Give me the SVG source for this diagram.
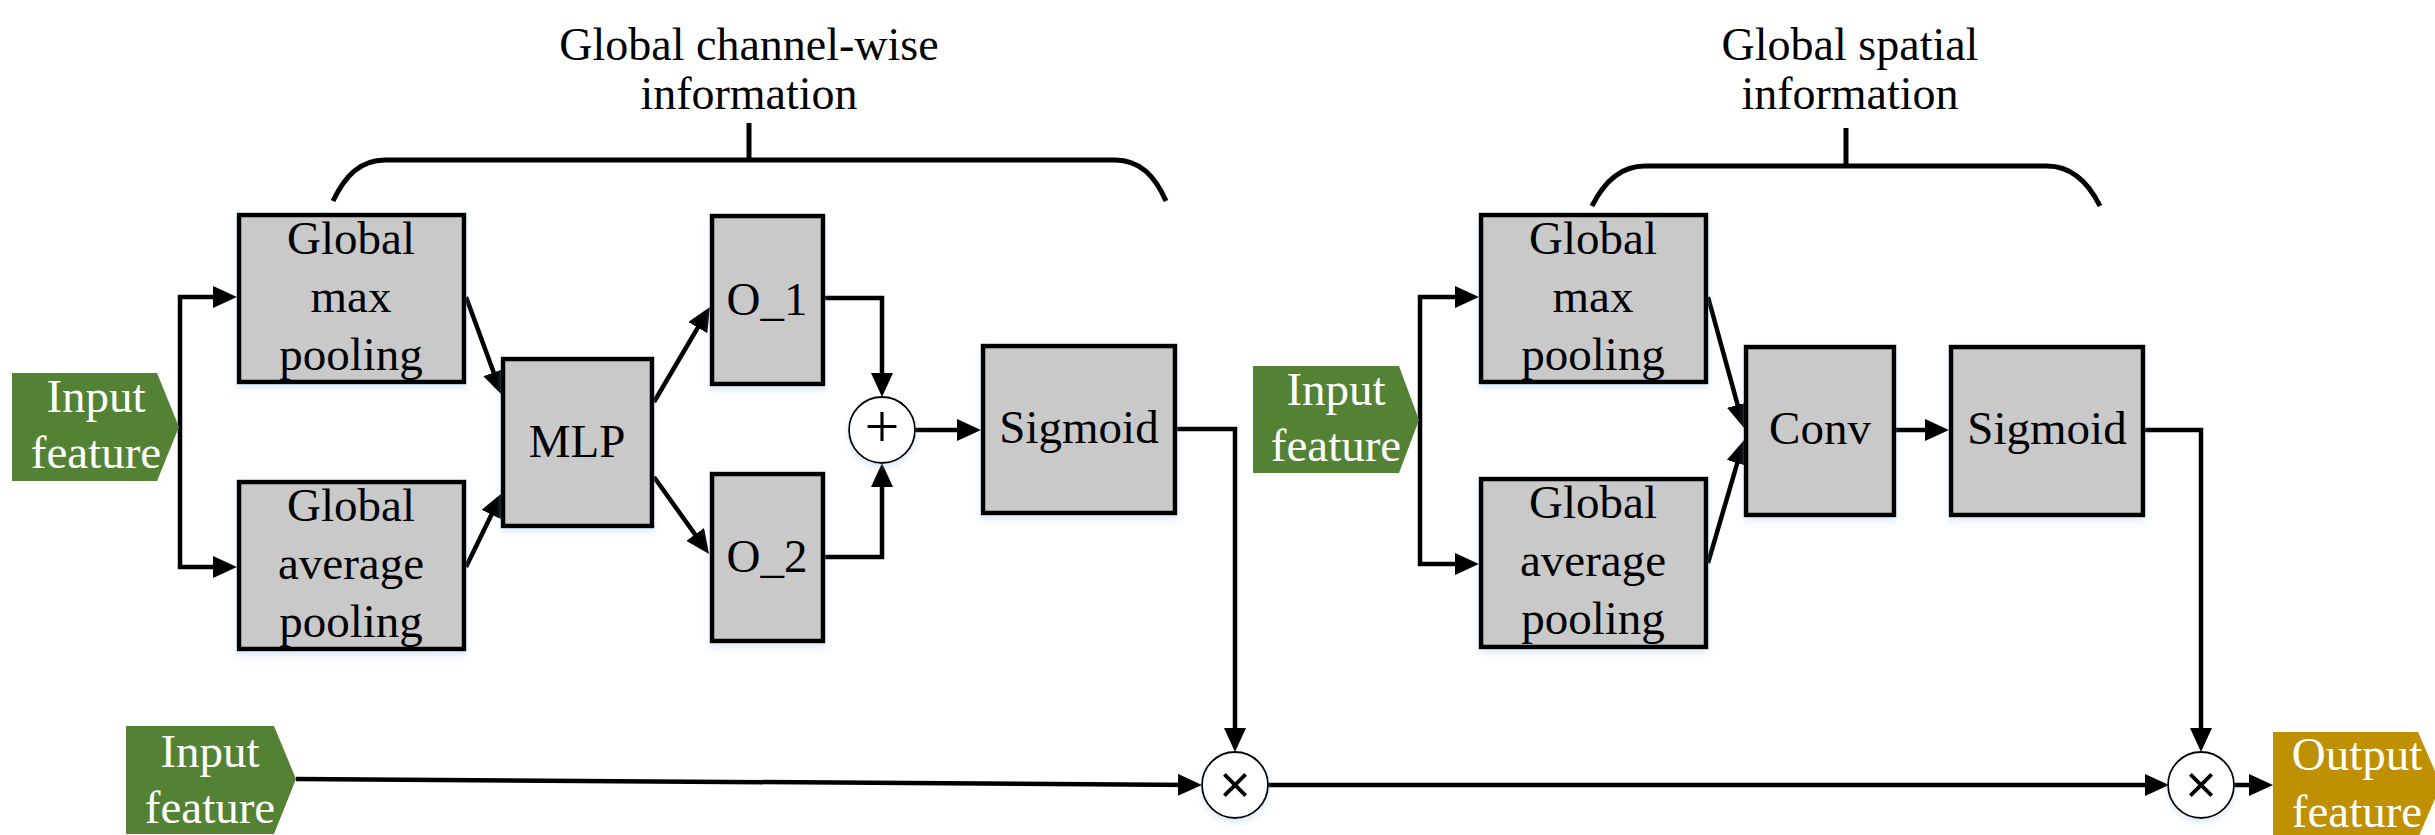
<svg xmlns="http://www.w3.org/2000/svg" width="2435" height="835" viewBox="0 0 2435 835">
<style>
.box{fill:#C9C9C9;stroke:#000;stroke-width:4.5;filter:url(#sh)}
.t{font-family:"Liberation Serif","Times New Roman",serif;font-size:47px;text-anchor:middle;fill:#000}
.tt{font-size:46px}
.w{fill:#fff}
.c{fill:none;stroke:#000;stroke-width:4.5}
.a{marker-end:url(#ah)}
.br{fill:none;stroke:#000;stroke-width:5}
.op{fill:#fff;stroke:#000;stroke-width:1.8;filter:url(#sh)}
.in{fill:#548235}
.out{fill:#BF9000}
</style>
<defs>
<marker id="ah" markerUnits="userSpaceOnUse" markerWidth="24" markerHeight="22" refX="16" refY="11" orient="auto">
<path d="M0,0 L24,11 L0,22 Z" fill="#000"/>
</marker>
<filter id="sh" x="-10%" y="-10%" width="120%" height="130%">
<feDropShadow dx="0" dy="4" stdDeviation="3" flood-color="#9DC3E6" flood-opacity="0.35"/>
</filter>
</defs>

<g id="brace-channel">
<path class="br" d="M333,201 C345,176 360,160 385,160 H1115 C1140,160 1155,176 1166,201"/>
<path class="br" d="M749,123 V160"/>
<text class="t tt" x="749" y="60">Global channel-wise</text>
<text class="t tt" x="749" y="109">information</text>
</g>
<g id="brace-spatial">
<path class="br" d="M1592,206 C1604,182 1620,166 1645,166 H2047 C2072,166 2088,182 2100,206"/>
<path class="br" d="M1846,128 V166"/>
<text class="t tt" x="1850" y="60">Global spatial</text>
<text class="t tt" x="1850" y="109">information</text>
</g>

<g id="connectors">
<path class="c a" d="M180,427 V297 H229"/>
<path class="c a" d="M180,427 V567 H229"/>
<path class="c a" d="M466,297 L499.2,387.5"/>
<path class="c a" d="M466,567 L498.5,500.2"/>
<path class="c a" d="M654,402 L705.9,313.9"/>
<path class="c a" d="M654,477 L704.4,547.5"/>
<path class="c a" d="M825,298 H882 V389"/>
<path class="c a" d="M825,557 H882 V471"/>
<path class="c a" d="M915,430 H973"/>
<path class="c a" d="M1177,429 H1235 V744"/>
<path class="c a" d="M296,779 L1194,785"/>
<path class="c a" d="M1268,785 H2161"/>
<path class="c a" d="M1420,420 V297 H1471"/>
<path class="c a" d="M1420,420 V564 H1471"/>
<path class="c a" d="M1708,297 L1741.9,420.3"/>
<path class="c a" d="M1708,563 L1741.8,447.7"/>
<path class="c a" d="M1896,430 H1941"/>
<path class="c a" d="M2145,430 H2201 V744"/>
<path class="c a" d="M2234,785 H2265"/>
</g>

<g id="input1">
<polygon class="in" points="12,373 157,373 179,427 157,481 12,481"/>
<text class="t w" x="96" y="412">Input</text>
<text class="t w" x="96" y="468">feature</text>
</g>
<g id="gmp1">
<rect class="box" x="239" y="215" width="225" height="167"/>
<text class="t" x="351" y="254">Global</text>
<text class="t" x="351" y="312">max</text>
<text class="t" x="351" y="370">pooling</text>
</g>
<g id="gap1">
<rect class="box" x="239" y="482" width="225" height="167"/>
<text class="t" x="351" y="521">Global</text>
<text class="t" x="351" y="579">average</text>
<text class="t" x="351" y="637">pooling</text>
</g>
<g id="mlp">
<rect class="box" x="503" y="359" width="149" height="167"/>
<text class="t" x="577" y="457">MLP</text>
</g>
<g id="o1">
<rect class="box" x="712" y="216" width="111" height="168"/>
<text class="t" x="767" y="315">O_1</text>
</g>
<g id="o2">
<rect class="box" x="712" y="474" width="111" height="167"/>
<text class="t" x="767" y="572">O_2</text>
</g>
<g id="add">
<circle class="op" cx="882" cy="430" r="33"/>
<text class="t" x="882" y="447" style="font-size:62px">+</text>
</g>
<g id="sigmoid1">
<rect class="box" x="983" y="346" width="192" height="167"/>
<text class="t" x="1079" y="443">Sigmoid</text>
</g>
<g id="input-bottom">
<polygon class="in" points="126,726 274,726 296,779 274,834 126,834"/>
<text class="t w" x="210" y="767">Input</text>
<text class="t w" x="210" y="823">feature</text>
</g>
<g id="mul1">
<circle class="op" cx="1235" cy="785" r="33"/>
<text x="1235" y="803" style="font-family:'Liberation Sans',Arial,sans-serif;font-size:54px;text-anchor:middle">×</text>
</g>
<g id="input2">
<polygon class="in" points="1253,366 1399,366 1419,420 1399,473 1253,473"/>
<text class="t w" x="1336" y="405">Input</text>
<text class="t w" x="1336" y="461">feature</text>
</g>
<g id="gmp2">
<rect class="box" x="1481" y="215" width="225" height="167"/>
<text class="t" x="1593" y="254">Global</text>
<text class="t" x="1593" y="312">max</text>
<text class="t" x="1593" y="370">pooling</text>
</g>
<g id="gap2">
<rect class="box" x="1481" y="479" width="225" height="168"/>
<text class="t" x="1593" y="518">Global</text>
<text class="t" x="1593" y="576">average</text>
<text class="t" x="1593" y="634">pooling</text>
</g>
<g id="conv">
<rect class="box" x="1746" y="347" width="148" height="168"/>
<text class="t" x="1820" y="444">Conv</text>
</g>
<g id="sigmoid2">
<rect class="box" x="1951" y="347" width="192" height="168"/>
<text class="t" x="2047" y="444">Sigmoid</text>
</g>
<g id="mul2">
<circle class="op" cx="2201" cy="785" r="33"/>
<text x="2201" y="803" style="font-family:'Liberation Sans',Arial,sans-serif;font-size:54px;text-anchor:middle">×</text>
</g>
<g id="output">
<polygon class="out" points="2273,732 2418,732 2441,785 2418,838 2273,838"/>
<text class="t w" x="2357" y="770">Output</text>
<text class="t w" x="2357" y="827">feature</text>
</g>
</svg>
